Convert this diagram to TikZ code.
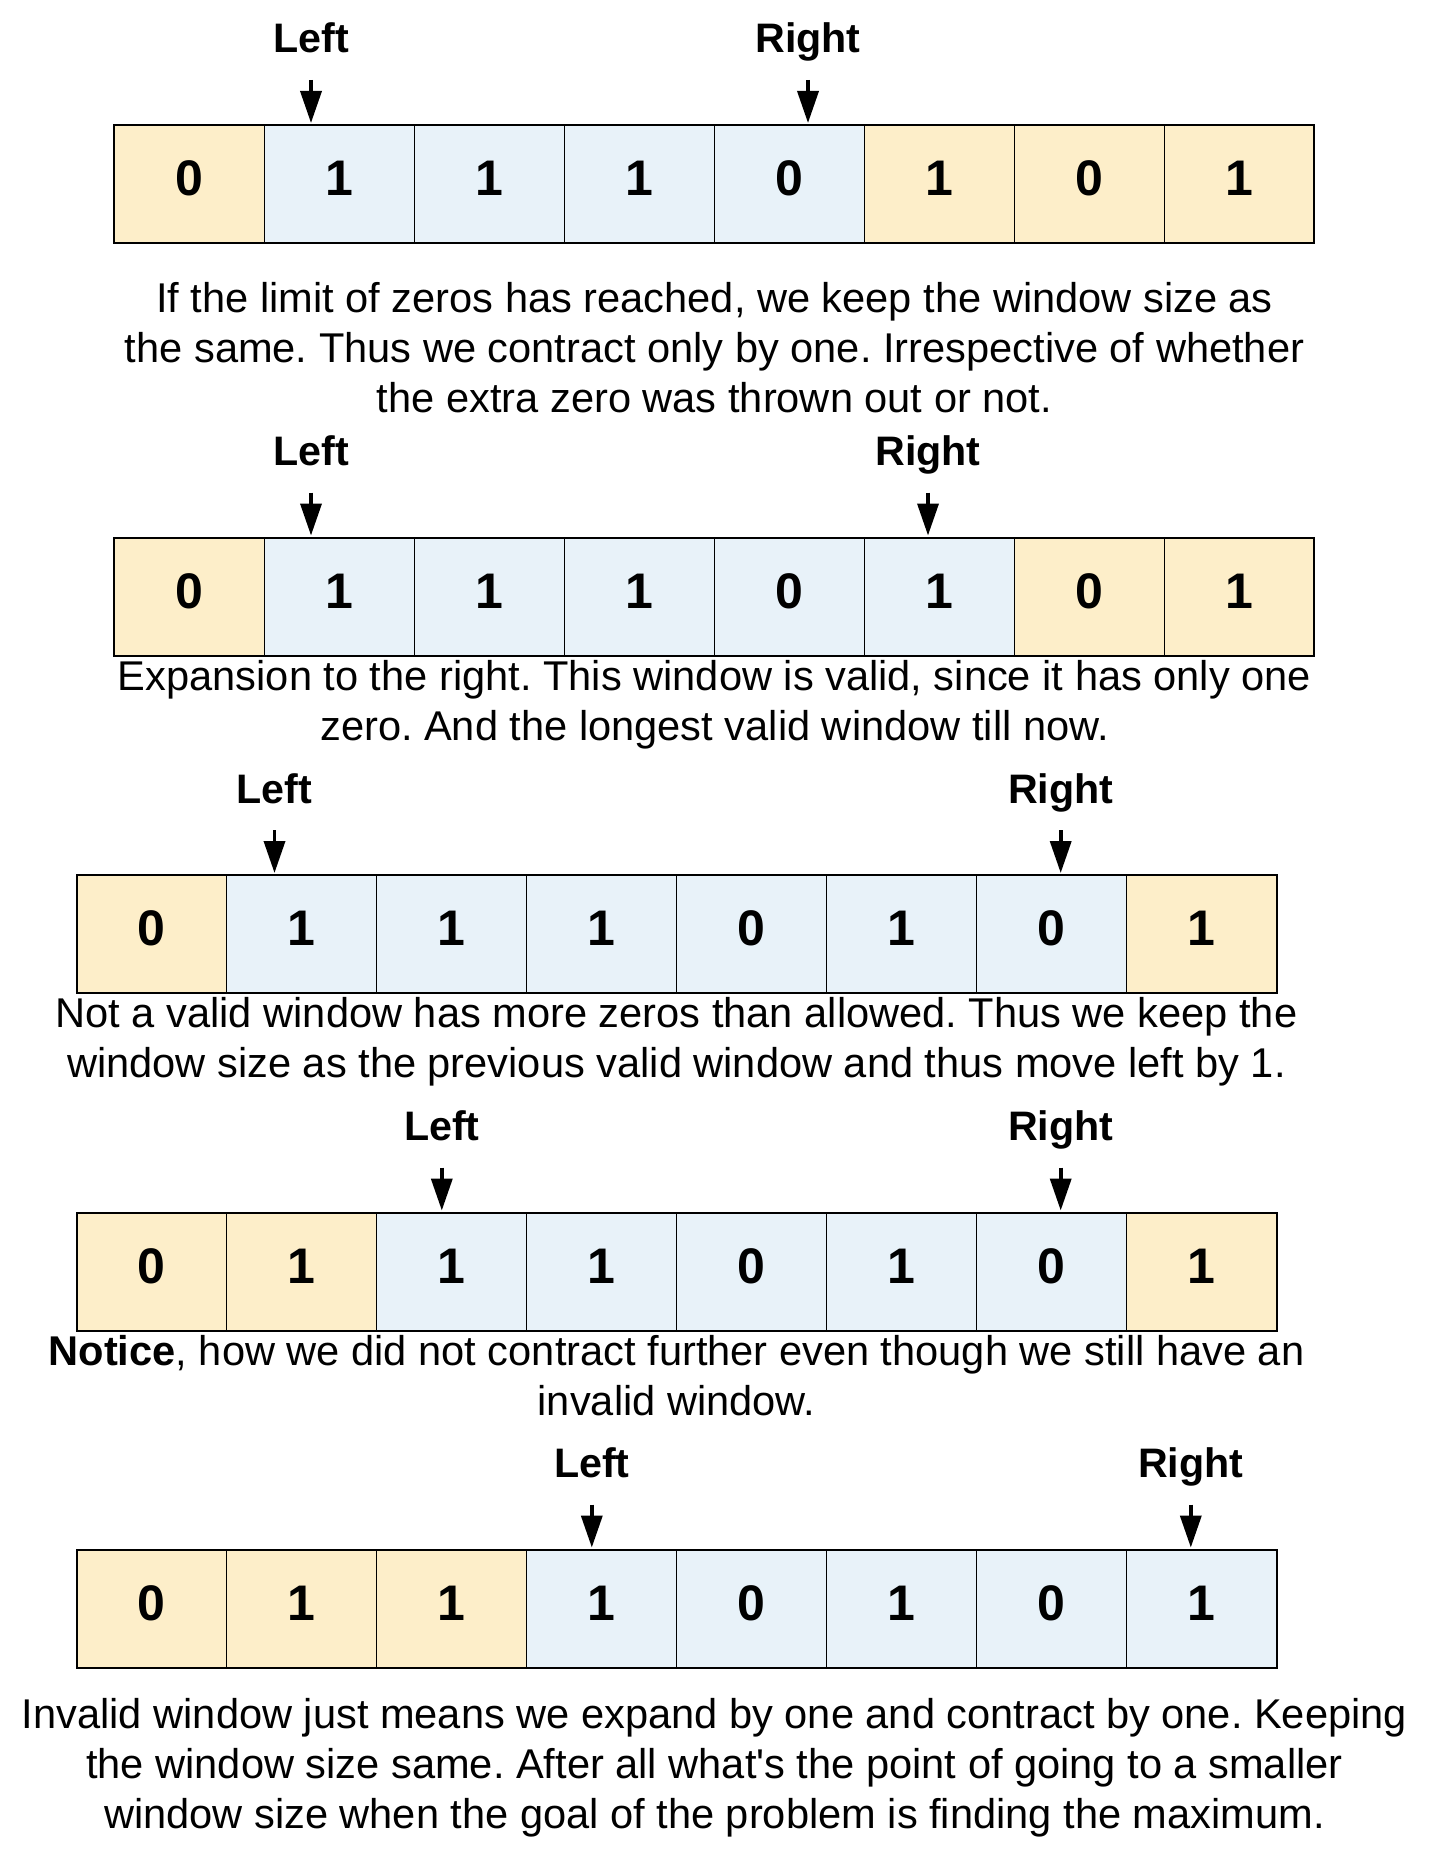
\documentclass[tikz,border=0pt]{standalone}
\usepackage{fontspec}
\setmainfont{Liberation Sans}
\usetikzlibrary{arrows.meta}
\frenchspacing
\definecolor{cy}{HTML}{FDEEC9}
\definecolor{cb}{HTML}{E8F2F9}
\tikzset{
  cell/.style={draw=black, line width=0.5pt, minimum width=75pt, minimum height=59pt,
    inner sep=0pt, outer sep=0pt, font=\fontsize{25}{30}\selectfont\bfseries,
    text height=18pt, text depth=6.5pt},
  frame/.style={draw=black, line width=1pt},
  ptrlabel/.style={font=\fontsize{20.6}{24}\selectfont\bfseries, anchor=base, inner sep=0pt},
  ptr/.style={line width=1.8pt, shorten >=1pt, -{Triangle[length=16pt,width=10.5pt]}},
  caption/.style={font=\fontsize{20.8}{25}\selectfont\frenchspacing, anchor=base, inner sep=0pt},
}
\begin{document}
\begin{tikzpicture}[x=0.5pt, y=-0.5pt]
\fill[white] (0,0) rectangle (1440,1862);
\useasboundingbox (0,0) rectangle (1440,1862);
% rows of cells
\foreach \rr/\xo/\ty/\wb/\we in {1/114.3/125/1/4, 2/114.3/537.5/1/5, 3/76.5/875/1/6, 4/76.5/1212.5/2/6, 5/76.5/1549.5/3/7} {
  \foreach \dg [count=\ii from 0] in {0,1,1,1,0,1,0,1} {
    \ifnum\ii<\wb \def\fc{cy}\else\ifnum\ii>\we \def\fc{cy}\else\def\fc{cb}\fi\fi
    \node[cell, fill=\fc] (r\rr c\ii) at ({\xo+75+150*\ii},{\ty+59}) {\dg};
  }
  \draw[frame] (r\rr c0.north west) rectangle (r\rr c7.south east);
}
% pointers
\foreach \rr/\ty/\lx/\rx in {1/125/311/808, 2/537.5/311/928, 3/875/274.5/1060.7, 4/1212.5/441.8/1060.7, 5/1549.5/591.8/1190.8} {
  \node[ptrlabel] (L\rr) at (\lx,\ty-72) {Left};
  \node[ptrlabel] (R\rr) at (\rx,\ty-72) {Right};
  \coordinate (Ls\rr) at (\lx,\ty-45);
  \coordinate (Rs\rr) at (\rx,\ty-45);
  \draw[ptr] (Ls\rr) -- (Ls\rr |- r\rr c0.north);
  \draw[ptr] (Rs\rr) -- (Rs\rr |- r\rr c0.north);
}
% captions
\node[caption] (c1a) at (714.5,312) {If the limit of zeros has reached, we keep the window size as};
\node[caption] (c1b) at (714.5,362) {the same. Thus we contract only by one. Irrespective of whether};
\node[caption] (c1c) at (714.5,412) {the extra zero was thrown out or not.};
\node[caption] (c2a) at (714.5,690.5) {Expansion to the right. This window is valid, since it has only one};
\node[caption] (c2b) at (714.5,740.5) {zero. And the longest valid window till now.};
\node[caption] (c3a) at (676.5,1027.7) {Not a valid window has more zeros than allowed. Thus we keep the};
\node[caption] (c3b) at (676.5,1077.5) {window size as the previous valid window and thus move left by 1.};
\node[caption] (c4a) at (676.5,1365.5) {\textbf{Notice}, how we did not contract further even though we still have an};
\node[caption] (c4b) at (676.5,1415) {invalid window.};
\node[caption] (c5a) at (714.5,1728) {Invalid window just means we expand by one and contract by one. Keeping};
\node[caption] (c5b) at (714.5,1778) {the window size same. After all what\textquotesingle s the point of going to a smaller};
\node[caption] (c5c) at (714.5,1828) {window size when the goal of the problem is finding the maximum.};
\end{tikzpicture}
\end{document}
